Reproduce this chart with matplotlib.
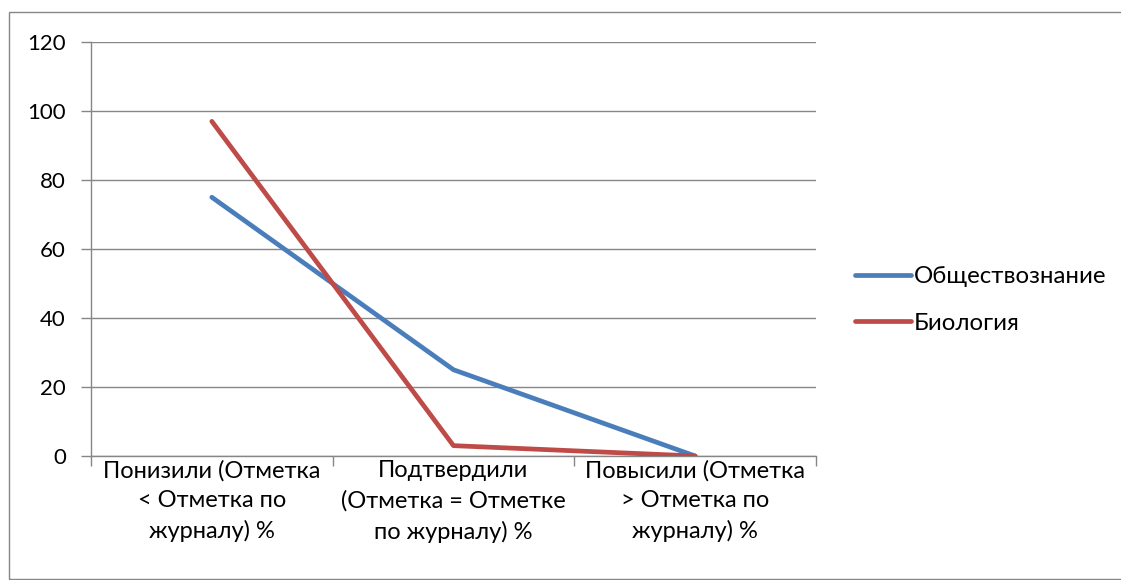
import matplotlib.pyplot as plt
from matplotlib.lines import Line2D
from matplotlib.patches import Rectangle
import numpy as np

plt.rcParams['font.family'] = ['Lato', 'DejaVu Sans']

categories = ['Понизили (Отметка\n< Отметка по\nжурналу) %',
              'Подтвердили\n(Отметка = Отметке\nпо журналу) %',
              'Повысили (Отметка\n> Отметка по\nжурналу) %']
social = [75, 25, 0]
biology = [97, 3, 0]
series_names = ['Обществознание', 'Биология']
blue = '#4A7EBB'
red = '#BE4B48'
grid = '#868686'

fig = plt.figure(figsize=(11.21, 5.80), dpi=100)
fig.patches.append(Rectangle((9 / 1121, 0.002), 1.0, 1 - 12 / 580 - 0.002,
                             transform=fig.transFigure, fill=False,
                             edgecolor=grid, linewidth=1))

ax = fig.add_axes([91 / 1121, 1 - 456 / 580, (816 - 91) / 1121, (456 - 42) / 580])
x = np.arange(len(categories))
ax.plot(x, social, color=blue, lw=3.4, solid_capstyle='round', solid_joinstyle='round',
        label=series_names[0], zorder=3)
ax.plot(x, biology, color=red, lw=3.4, solid_capstyle='round', solid_joinstyle='round',
        label=series_names[1], zorder=3)

ax.set_xlim(-0.5, 2.5)
ax.set_ylim(0, 120)
ax.set_yticks(range(0, 121, 20))
ax.yaxis.grid(True, color=grid, lw=1)
ax.set_axisbelow(True)

ax.set_xticks(x)
ax.set_xticklabels(categories, fontsize=17, linespacing=1.5)
ax.set_xticks([-0.5, 0.5, 1.5, 2.5], minor=True)
ax.tick_params(axis='x', which='major', length=0, pad=3)
ax.tick_params(axis='x', which='minor', length=7, color=grid, width=1)
ax.tick_params(axis='y', length=7, color=grid, width=1, labelsize=16, pad=11)

for s in ['top', 'right']:
    ax.spines[s].set_visible(False)
for s in ['left', 'bottom']:
    ax.spines[s].set_color(grid)
    ax.spines[s].set_linewidth(1)

handles = [Line2D([0], [0], color=blue, lw=3.4, solid_capstyle='round'),
           Line2D([0], [0], color=red, lw=3.4, solid_capstyle='round')]
fig.legend(handles, series_names, loc='center left',
           bbox_to_anchor=(833 / 1121, 1 - 300 / 580), frameon=False,
           fontsize=17.3, handlelength=2.35, handletextpad=0.1, labelspacing=1.05)

fig.savefig('out.png', dpi=100)
